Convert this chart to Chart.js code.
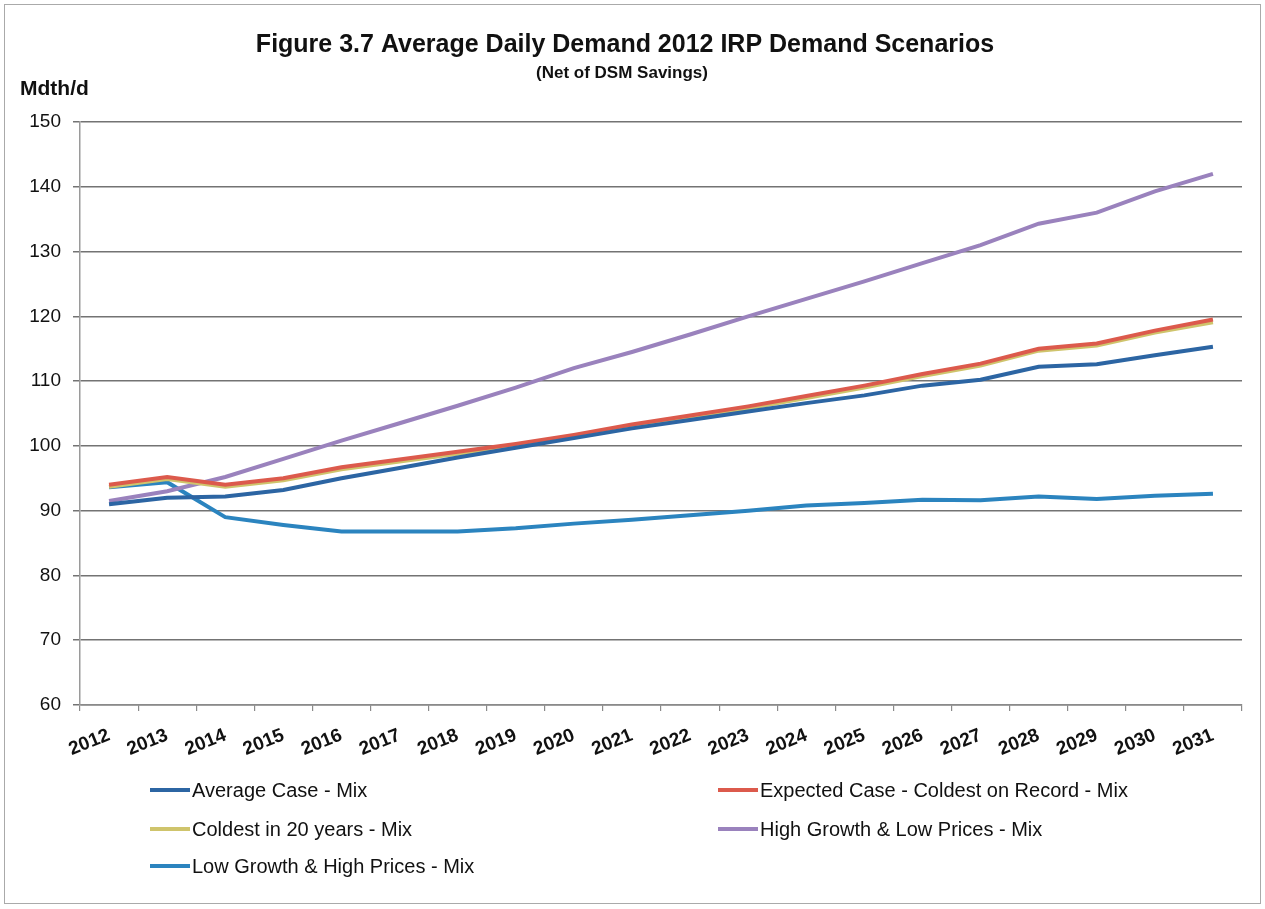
<!DOCTYPE html>
<html>
<head>
<meta charset="utf-8">
<script src="https://cdn.jsdelivr.net/npm/chart.js@4"></script>
<style>
  body { margin: 0; background: #fff; }
  #wrap { position: relative; width: 1265px; height: 909px; }
  #legend { position: absolute; left: 0; top: 0; width: 1265px; height: 909px; pointer-events: none;
            font-family: "Liberation Sans", Arial, sans-serif; font-size: 20px; color: #111; }
  .item { position: absolute; display: flex; align-items: center; white-space: nowrap; }
  .swatch { width: 40px; height: 4px; margin-right: 2px; }
</style>
</head>
<body>
<div id="wrap">
  <canvas id="graphic" width="1265" height="909"></canvas>
  <div id="legend"></div>
</div>
<script>
// years on the x axis
var years = ["2012","2013","2014","2015","2016","2017","2018","2019","2020","2021",
             "2022","2023","2024","2025","2026","2027","2028","2029","2030","2031"];

var averageCase = [91.0, 92.0, 92.2, 93.2, 95.0, 96.6, 98.2, 99.7, 101.2, 102.7,
                   104.0, 105.3, 106.6, 107.8, 109.3, 110.2, 112.2, 112.6, 114.0, 115.3];
var expectedColdest = [94.0, 95.2, 94.0, 95.0, 96.7, 97.9, 99.1, 100.3, 101.7, 103.3,
                       104.7, 106.1, 107.7, 109.3, 111.1, 112.7, 115.0, 115.8, 117.8, 119.5];
var coldest20 = [93.7, 94.9, 93.7, 94.7, 96.4, 97.6, 98.8, 100.0, 101.4, 103.0,
                 104.4, 105.8, 107.4, 109.0, 110.8, 112.4, 114.7, 115.5, 117.5, 119.1];
var highGrowth = [91.5, 93.0, 95.2, 98.0, 100.8, 103.5, 106.2, 109.0, 112.0, 114.5,
                  117.2, 120.0, 122.7, 125.4, 128.2, 131.0, 134.3, 136.0, 139.3, 142.0];
var lowGrowth = [93.6, 94.4, 89.0, 87.8, 86.8, 86.8, 86.8, 87.3, 88.0, 88.6,
                 89.3, 90.0, 90.8, 91.2, 91.7, 91.6, 92.2, 91.8, 92.3, 92.6];

var yTicks = [60, 70, 80, 90, 100, 110, 120, 130, 140, 150];

var names = ["Average Case - Mix", "Expected Case - Coldest on Record - Mix",
             "Coldest in 20 years - Mix", "High Growth & Low Prices - Mix",
             "Low Growth & High Prices - Mix"];
var colors = ["#2c65a3", "#dc5a4c", "#cfc46c", "#9a82bd", "#2b84bf"];
var series = [averageCase, expectedColdest, coldest20, highGrowth, lowGrowth];

var datasets = series.map(function (s, i) {
    return {
        label: names[i],
        data: s,
        borderColor: colors[i],
        backgroundColor: colors[i],
        borderWidth: 4,
        pointRadius: 0,
        tension: 0,
        fill: false
    };
});

var FONT = "Liberation Sans";

var textPlugin = {
    id: "texts",
    afterDraw: function (chart) {
        var c = chart.ctx;
        c.save();
        c.fillStyle = "#111";
        c.textAlign = "center";
        c.textBaseline = "middle";
        c.font = "bold 25px " + FONT;
        c.fillText("Figure 3.7 Average Daily Demand 2012 IRP Demand Scenarios", 625, 45);
        c.font = "bold 17px " + FONT;
        c.fillText("(Net of DSM Savings)", 622, 73);
        c.textAlign = "left";
        c.font = "bold 21px " + FONT;
        c.fillText("Mdth/d", 20, 89);
        // outer frame
        c.strokeStyle = "#aaa";
        c.lineWidth = 1;
        c.strokeRect(4.5, 4.5, 1256, 899);
        c.restore();
    }
};

var chart = new Chart(document.getElementById("graphic").getContext("2d"), {
    type: "line",
    data: { labels: years, datasets: datasets },
    options: {
        responsive: false,
        animation: false,
        layout: { padding: { top: 122, left: 0, right: 23, bottom: 0 } },
        plugins: {
            legend: { display: false },
            title: { display: false },
            tooltip: { enabled: false }
        },
        scales: {
            x: {
                offset: true,
                afterFit: function (scale) { scale.height = 909 - 705; },
                grid: { offset: true, drawOnChartArea: false, drawTicks: true, tickLength: 6, color: "#8a8a8a", lineWidth: 1.2 },
                border: { color: "#8a8a8a", width: 1.5 },
                ticks: {
                    minRotation: 22, maxRotation: 22, padding: 13,
                    color: "#111",
                    font: { family: FONT, size: 19, weight: "bold" }
                }
            },
            y: {
                min: 60, max: 150,
                afterFit: function (scale) { scale.width = 80; },
                afterBuildTicks: function (scale) {
                    scale.ticks = yTicks.map(function (v) { return { value: v }; });
                },
                grid: { color: "#737373", lineWidth: 1.5, tickLength: 7 },
                border: { color: "#9a9a9a", width: 1.5 },
                ticks: {
                    padding: 12,
                    color: "#111",
                    font: { family: FONT, size: 19 }
                }
            }
        }
    },
    plugins: [textPlugin]
});

// legend built as html, two columns like the original
var legendPos = [[150, 790], [718, 790], [150, 829], [718, 829], [150, 866]];
var legendBox = document.getElementById("legend");
names.forEach(function (n, i) {
    var d = document.createElement("div");
    d.className = "item";
    d.style.left = legendPos[i][0] + "px";
    d.style.top = (legendPos[i][1] - 12) + "px";
    d.style.height = "24px";
    var sw = document.createElement("span");
    sw.className = "swatch";
    sw.style.background = colors[i];
    var tx = document.createElement("span");
    tx.textContent = n;
    d.appendChild(sw);
    d.appendChild(tx);
    legendBox.appendChild(d);
});
</script>
</body>
</html>
